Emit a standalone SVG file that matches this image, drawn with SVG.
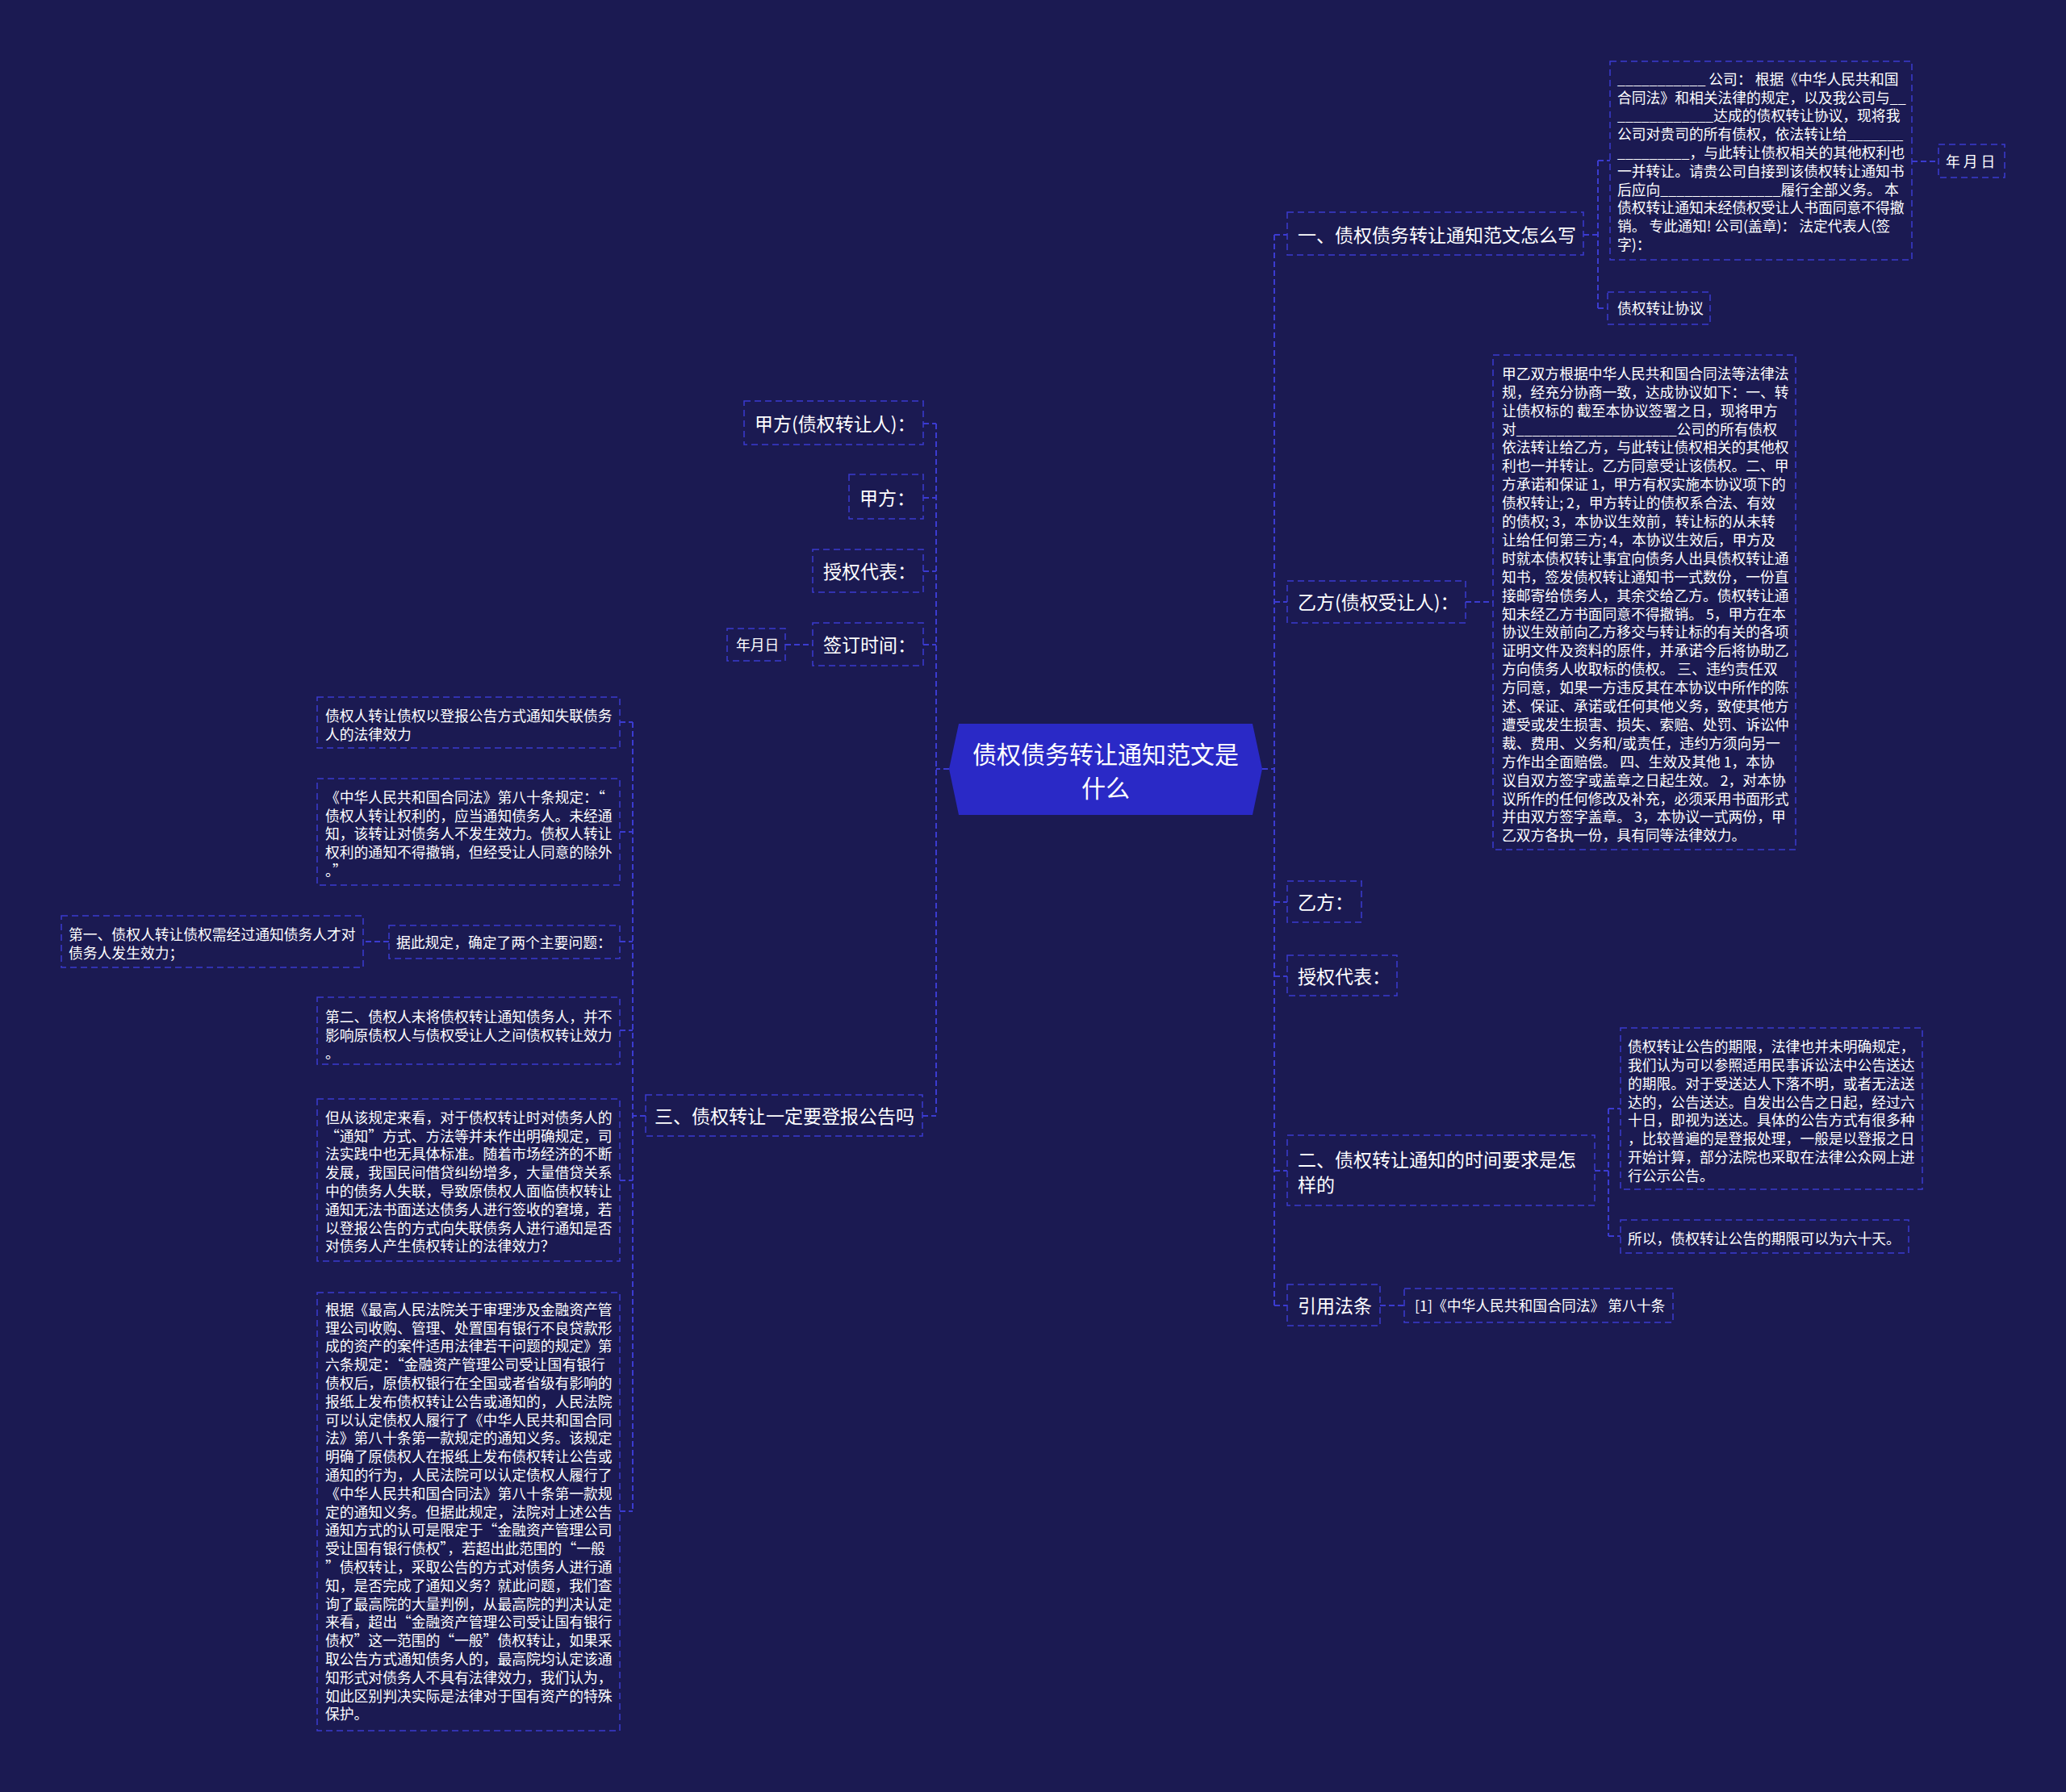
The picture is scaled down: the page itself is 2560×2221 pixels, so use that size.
<svg xmlns="http://www.w3.org/2000/svg" width="2560" height="2221" viewBox="0 0 2560 2221">
<style>
.t{fill:#ffffff;font-family:"Noto Sans CJK SC","Liberation Sans",sans-serif}
.s18{font-size:17.8px}
.s23{font-size:23px}
.s30{font-size:30px}
.box{fill:#1b1a52;stroke:#3b3bd0;stroke-width:1.5;stroke-dasharray:8 5}
.conn{fill:none;stroke:#3b3bd0;stroke-width:2;stroke-dasharray:7 4}
</style>
<rect x="0" y="0" width="2560" height="2221" fill="#1b1a52"/>
<g id="connectors">
<path class="conn" d="M1564 953H1579M1579 291V1618M1579 291H1595M1579 746H1595M1579 1118H1595M1579 1210H1595M1579 1451H1595M1579 1618H1595"/>
<path class="conn" d="M1962 291H1980M1980 199V382M1980 199H1995M1980 382H1992M2369 200H2402"/>
<path class="conn" d="M1816 746H1850"/>
<path class="conn" d="M1976 1451H1993M1993 1374V1532M1993 1374H2008M1993 1532H2008"/>
<path class="conn" d="M1710 1618H1740"/>
<path class="conn" d="M1176 953H1160M1160 525V1383M1144 525H1160M1144 617H1160M1144 708H1160M1144 799H1160M1143 1383H1160M973 799H1007"/>
<path class="conn" d="M800 1383H784M784 895V1873M768 895H784M768 1031H784M768 1167H784M768 1277H784M768 1463H784M768 1873H784M482 1167H450"/>
</g>
<g id="center">
<polygon points="1188,897 1552,897 1564,953 1552,1010 1188,1010 1176,953" fill="#2a29c6"/>
<text class="t s30" x="1370" text-anchor="middle"><tspan x="1370" y="946">债权债务转让通知范文是</tspan><tspan x="1370" y="988">什么</tspan></text>
</g>
<g id="r1">
<rect class="box" x="1595" y="263" width="367" height="53"/>
<text class="t s23" x="1608" y="300">一、债权债务转让通知范文怎么写</text>
</g>
<g id="r1a">
<rect class="box" x="1995" y="76" width="374" height="246"/>
<text class="t s18"><tspan x="2004" y="104.8">___________ 公司： 根据《中华人民共和国</tspan><tspan x="2004" y="127.6">合同法》和相关法律的规定，以及我公司与__</tspan><tspan x="2004" y="150.4">____________达成的债权转让协议，现将我</tspan><tspan x="2004" y="173.2">公司对贵司的所有债权，依法转让给_______</tspan><tspan x="2004" y="196">_________，与此转让债权相关的其他权利也</tspan><tspan x="2004" y="218.8">一并转让。请贵公司自接到该债权转让通知书</tspan><tspan x="2004" y="241.6">后应向_______________履行全部义务。 本</tspan><tspan x="2004" y="264.4">债权转让通知未经债权受让人书面同意不得撤</tspan><tspan x="2004" y="287.2">销。 专此通知! 公司(盖章)： 法定代表人(签</tspan><tspan x="2004" y="310">字)：</tspan></text>
</g>
<g id="r1a1">
<rect class="box" x="2402" y="179" width="82" height="41"/>
<text class="t s18" x="2411" y="207" xml:space="preserve">年 月 日</text>
</g>
<g id="r1b">
<rect class="box" x="1992" y="362" width="127" height="40"/>
<text class="t s18" x="2004" y="389">债权转让协议</text>
</g>
<g id="r2">
<rect class="box" x="1595" y="720" width="221" height="52"/>
<text class="t s23" x="1608" y="755">乙方(债权受让人)：</text>
</g>
<g id="r2a">
<rect class="box" x="1850" y="440" width="375" height="613"/>
<text class="t s18"><tspan x="1861" y="469.8">甲乙双方根据中华人民共和国合同法等法律法</tspan><tspan x="1861" y="492.7">规，经充分协商一致，达成协议如下：一、转</tspan><tspan x="1861" y="515.6">让债权标的 截至本协议签署之日，现将甲方</tspan><tspan x="1861" y="538.5">对____________________公司的所有债权</tspan><tspan x="1861" y="561.4">依法转让给乙方，与此转让债权相关的其他权</tspan><tspan x="1861" y="584.3">利也一并转让。乙方同意受让该债权。二、甲</tspan><tspan x="1861" y="607.2">方承诺和保证 1，甲方有权实施本协议项下的</tspan><tspan x="1861" y="630.1">债权转让; 2，甲方转让的债权系合法、有效</tspan><tspan x="1861" y="653">的债权; 3，本协议生效前，转让标的从未转</tspan><tspan x="1861" y="675.9">让给任何第三方; 4，本协议生效后，甲方及</tspan><tspan x="1861" y="698.8">时就本债权转让事宜向债务人出具债权转让通</tspan><tspan x="1861" y="721.7">知书，签发债权转让通知书一式数份，一份直</tspan><tspan x="1861" y="744.6">接邮寄给债务人，其余交给乙方。债权转让通</tspan><tspan x="1861" y="767.5">知未经乙方书面同意不得撤销。 5，甲方在本</tspan><tspan x="1861" y="790.4">协议生效前向乙方移交与转让标的有关的各项</tspan><tspan x="1861" y="813.3">证明文件及资料的原件，并承诺今后将协助乙</tspan><tspan x="1861" y="836.2">方向债务人收取标的债权。 三、违约责任双</tspan><tspan x="1861" y="859.1">方同意，如果一方违反其在本协议中所作的陈</tspan><tspan x="1861" y="882">述、保证、承诺或任何其他义务，致使其他方</tspan><tspan x="1861" y="904.9">遭受或发生损害、损失、索赔、处罚、诉讼仲</tspan><tspan x="1861" y="927.8">裁、费用、义务和/或责任，违约方须向另一</tspan><tspan x="1861" y="950.7">方作出全面赔偿。 四、生效及其他 1，本协</tspan><tspan x="1861" y="973.6">议自双方签字或盖章之日起生效。 2，对本协</tspan><tspan x="1861" y="996.5">议所作的任何修改及补充，必须采用书面形式</tspan><tspan x="1861" y="1019.4">并由双方签字盖章。 3，本协议一式两份，甲</tspan><tspan x="1861" y="1042.3">乙双方各执一份，具有同等法律效力。</tspan></text>
</g>
<g id="r3">
<rect class="box" x="1595" y="1092" width="92" height="51"/>
<text class="t s23" x="1608" y="1127">乙方：</text>
</g>
<g id="r4">
<rect class="box" x="1595" y="1184" width="136" height="50"/>
<text class="t s23" x="1608" y="1219">授权代表：</text>
</g>
<g id="r5">
<rect class="box" x="1595" y="1407" width="381" height="87"/>
<text class="t s23"><tspan x="1608" y="1446">二、债权转让通知的时间要求是怎</tspan><tspan x="1608" y="1477">样的</tspan></text>
</g>
<g id="r5a">
<rect class="box" x="2008" y="1274" width="374" height="200"/>
<text class="t s18"><tspan x="2017" y="1303.8">债权转让公告的期限，法律也并未明确规定，</tspan><tspan x="2017" y="1326.7">我们认为可以参照适用民事诉讼法中公告送达</tspan><tspan x="2017" y="1349.6">的期限。对于受送达人下落不明，或者无法送</tspan><tspan x="2017" y="1372.5">达的，公告送达。自发出公告之日起，经过六</tspan><tspan x="2017" y="1395.4">十日，即视为送达。具体的公告方式有很多种</tspan><tspan x="2017" y="1418.3">，比较普遍的是登报处理，一般是以登报之日</tspan><tspan x="2017" y="1441.2">开始计算，部分法院也采取在法律公众网上进</tspan><tspan x="2017" y="1464.1">行公示公告。</tspan></text>
</g>
<g id="r5b">
<rect class="box" x="2008" y="1512" width="357" height="41"/>
<text class="t s18" x="2017" y="1542">所以，债权转让公告的期限可以为六十天。</text>
</g>
<g id="r6">
<rect class="box" x="1595" y="1592" width="115" height="51"/>
<text class="t s23" x="1608" y="1627">引用法条</text>
</g>
<g id="r6a">
<rect class="box" x="1740" y="1597" width="333" height="42"/>
<text class="t s18" x="1753" y="1625">[1]《中华人民共和国合同法》 第八十条</text>
</g>
<g id="l1">
<rect class="box" x="922" y="497" width="222" height="54"/>
<text class="t s23" x="935" y="534">甲方(债权转让人)：</text>
</g>
<g id="l2">
<rect class="box" x="1052" y="588" width="92" height="55"/>
<text class="t s23" x="1065" y="626">甲方：</text>
</g>
<g id="l3">
<rect class="box" x="1007" y="681" width="137" height="53"/>
<text class="t s23" x="1020" y="717">授权代表：</text>
</g>
<g id="l4">
<rect class="box" x="1007" y="772" width="137" height="53"/>
<text class="t s23" x="1020" y="808">签订时间：</text>
</g>
<g id="l4a">
<rect class="box" x="901" y="779" width="72" height="40"/>
<text class="t s18" x="912" y="806">年月日</text>
</g>
<g id="l5">
<rect class="box" x="800" y="1357" width="343" height="51"/>
<text class="t s23" x="811" y="1392">三、债权转让一定要登报公告吗</text>
</g>
<g id="l5a">
<rect class="box" x="393" y="864" width="375" height="63"/>
<text class="t s18"><tspan x="403" y="893.8">债权人转让债权以登报公告方式通知失联债务</tspan><tspan x="403" y="916.6">人的法律效力</tspan></text>
</g>
<g id="l5b">
<rect class="box" x="393" y="965" width="375" height="132"/>
<text class="t s18"><tspan x="403" y="994.8">《中华人民共和国合同法》第八十条规定：“</tspan><tspan x="403" y="1017.6">债权人转让权利的，应当通知债务人。未经通</tspan><tspan x="403" y="1040.4">知，该转让对债务人不发生效力。债权人转让</tspan><tspan x="403" y="1063.2">权利的通知不得撤销，但经受让人同意的除外</tspan><tspan x="403" y="1086">。”</tspan></text>
</g>
<g id="l5c">
<rect class="box" x="482" y="1147" width="286" height="41"/>
<text class="t s18" x="491" y="1175">据此规定，确定了两个主要问题：</text>
</g>
<g id="l5c1">
<rect class="box" x="76" y="1135" width="374" height="64"/>
<text class="t s18"><tspan x="85" y="1164.8">第一、债权人转让债权需经过通知债务人才对</tspan><tspan x="85" y="1188">债务人发生效力；</tspan></text>
</g>
<g id="l5d">
<rect class="box" x="393" y="1236" width="375" height="83"/>
<text class="t s18"><tspan x="403" y="1266.8">第二、债权人未将债权转让通知债务人，并不</tspan><tspan x="403" y="1289.6">影响原债权人与债权受让人之间债权转让效力</tspan><tspan x="403" y="1312.4">。</tspan></text>
</g>
<g id="l5e">
<rect class="box" x="393" y="1362" width="375" height="201"/>
<text class="t s18"><tspan x="403" y="1391.8">但从该规定来看，对于债权转让时对债务人的</tspan><tspan x="403" y="1414.6">“通知”方式、方法等并未作出明确规定，司</tspan><tspan x="403" y="1437.4">法实践中也无具体标准。随着市场经济的不断</tspan><tspan x="403" y="1460.2">发展，我国民间借贷纠纷增多，大量借贷关系</tspan><tspan x="403" y="1483">中的债务人失联，导致原债权人面临债权转让</tspan><tspan x="403" y="1505.8">通知无法书面送达债务人进行签收的窘境，若</tspan><tspan x="403" y="1528.6">以登报公告的方式向失联债务人进行通知是否</tspan><tspan x="403" y="1551.4">对债务人产生债权转让的法律效力？</tspan></text>
</g>
<g id="l5f">
<rect class="box" x="393" y="1602" width="375" height="543"/>
<text class="t s18"><tspan x="403" y="1629.8">根据《最高人民法院关于审理涉及金融资产管</tspan><tspan x="403" y="1652.6">理公司收购、管理、处置国有银行不良贷款形</tspan><tspan x="403" y="1675.4">成的资产的案件适用法律若干问题的规定》第</tspan><tspan x="403" y="1698.2">六条规定：“金融资产管理公司受让国有银行</tspan><tspan x="403" y="1721">债权后，原债权银行在全国或者省级有影响的</tspan><tspan x="403" y="1743.8">报纸上发布债权转让公告或通知的，人民法院</tspan><tspan x="403" y="1766.6">可以认定债权人履行了《中华人民共和国合同</tspan><tspan x="403" y="1789.4">法》第八十条第一款规定的通知义务。该规定</tspan><tspan x="403" y="1812.2">明确了原债权人在报纸上发布债权转让公告或</tspan><tspan x="403" y="1835">通知的行为，人民法院可以认定债权人履行了</tspan><tspan x="403" y="1857.8">《中华人民共和国合同法》第八十条第一款规</tspan><tspan x="403" y="1880.6">定的通知义务。但据此规定，法院对上述公告</tspan><tspan x="403" y="1903.4">通知方式的认可是限定于“金融资产管理公司</tspan><tspan x="403" y="1926.2">受让国有银行债权”，若超出此范围的“一般</tspan><tspan x="403" y="1949">”债权转让，采取公告的方式对债务人进行通</tspan><tspan x="403" y="1971.8">知，是否完成了通知义务？就此问题，我们查</tspan><tspan x="403" y="1994.6">询了最高院的大量判例，从最高院的判决认定</tspan><tspan x="403" y="2017.4">来看，超出“金融资产管理公司受让国有银行</tspan><tspan x="403" y="2040.2">债权”这一范围的“一般”债权转让，如果采</tspan><tspan x="403" y="2063">取公告方式通知债务人的，最高院均认定该通</tspan><tspan x="403" y="2085.8">知形式对债务人不具有法律效力，我们认为，</tspan><tspan x="403" y="2108.6">如此区别判决实际是法律对于国有资产的特殊</tspan><tspan x="403" y="2131.4">保护。</tspan></text>
</g>
</svg>
